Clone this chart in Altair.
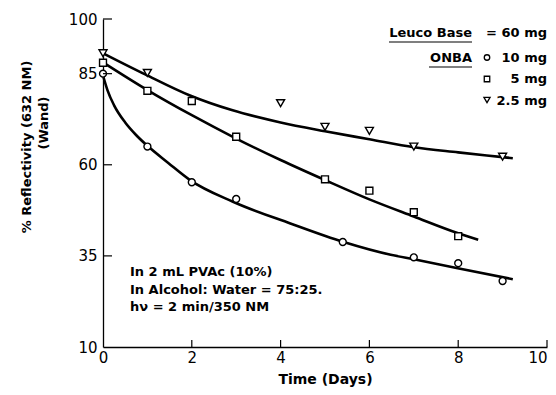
import altair as alt
import pandas as pd

# ---------------- data ----------------
circle_x = [0, 1, 2, 3, 5.4, 7, 8, 9]
circle_y = [85.0, 65.0, 55.2, 50.6, 38.8, 34.6, 33.0, 28.1]

square_x = [0, 1, 2, 3, 5, 6, 7, 8]
square_y = [88.0, 80.3, 77.5, 67.7, 56.0, 52.9, 47.0, 40.4]

tri_x = [0, 1, 4, 5, 6, 7, 9]
tri_y = [90.6, 85.2, 76.9, 70.4, 69.3, 65.0, 62.2]

# fitted curves
circle_fit_x = [0, 0.1, 0.25, 0.5, 0.75, 1.0, 1.47, 1.96, 2.94, 4.22, 5.42, 6.48, 7.03, 7.99, 9.23]
circle_fit_y = [84.5, 80.5, 76.3, 71.6, 68.1, 65.2, 60.5, 55.8, 49.8, 43.9, 38.8, 35.3, 34.0, 31.6, 28.6]

square_fit_x = [0, 1, 2, 3, 4, 5, 6, 7, 8, 8.45]
square_fit_y = [88.1, 80.5, 73.6, 67.2, 61.3, 55.8, 50.5, 45.8, 41.2, 39.4]

tri_fit_x = [0, 0.95, 1.96, 2.9, 4.0, 5.0, 6.0, 7.0, 8.0, 9.0, 9.23]
tri_fit_y = [90.6, 84.8, 79.0, 75.0, 71.6, 69.2, 67.0, 64.8, 63.4, 62.1, 61.8]

x_ticks = [0, 2, 4, 6, 8, 10]
y_ticks = [10, 35, 60, 85, 100]

legend_labels = ["10 mg", "5 mg", "2.5 mg"]
note_lines = ["In 2 mL PVAc (10%)", "In Alcohol: Water = 75:25.", "h\u03bd = 2 min/350 NM"]

# ---------------- chart ----------------
W, H = 444, 328
FONT = "DejaVu Sans"
xs = alt.Scale(domain=[0, 10], nice=False, zero=False)
ys = alt.Scale(domain=[10, 100], nice=False, zero=False)

def fit_df(xv, yv):
    return pd.DataFrame({"t": xv, "r": yv})

X = alt.X("t:Q", scale=xs,
          axis=alt.Axis(values=x_ticks, ticks=False, grid=False, domainColor="black",
                        domainWidth=1.3, labelFont=FONT, labelFontSize=15, labelColor="black",
                        labelPadding=3, title="Time (Days)", titleFont=FONT, titleFontSize=14,
                        titleFontWeight="bold", titleColor="black", titlePadding=7,
                        labelFlush=False,
                        labelAlign=alt.expr("datum.value == 10 ? 'right' : 'center'")))
Y = alt.Y("r:Q", scale=ys,
          axis=alt.Axis(values=y_ticks, ticks=False, grid=False, domainColor="black",
                        domainWidth=1.3, labelFont=FONT, labelFontSize=15, labelColor="black",
                        labelPadding=6, title="", labelFlush=False))

lines = []
for fx, fy in [(circle_fit_x, circle_fit_y), (square_fit_x, square_fit_y), (tri_fit_x, tri_fit_y)]:
    lines.append(alt.Chart(fit_df(fx, fy)).mark_line(color="black", strokeWidth=2.6,
                                                     interpolate="monotone").encode(x=X, y=Y))

pts = []
for px, py, shp, sz in [(circle_x, circle_y, "circle", 48),
                         (square_x, square_y, "square", 48),
                         (tri_x, tri_y, "triangle-down", 64)]:
    pts.append(alt.Chart(fit_df(px, py)).mark_point(shape=shp, size=sz, filled=True, fill="white",
                                                    stroke="black", strokeWidth=1.4,
                                                    opacity=1).encode(x=X, y=Y))

# inward ticks
ytick = alt.Chart(pd.DataFrame({"r": y_ticks[1:]})).mark_rule(color="black", strokeWidth=1.2).encode(
    y=alt.Y("r:Q", scale=ys), x=alt.value(0), x2=alt.value(9))
xtick = alt.Chart(pd.DataFrame({"t": x_ticks[1:]})).mark_rule(color="black", strokeWidth=1.2).encode(
    x=alt.X("t:Q", scale=xs), y=alt.value(H), y2=alt.value(H - 7))

def txt(s, x, y, align="left", size=13, weight="bold", angle=0, baseline="alphabetic"):
    kw = dict(align=align, baseline=baseline, font=FONT, fontSize=size, fontWeight=weight,
              color="black")
    if angle:
        kw["angle"] = angle
    return alt.Chart(pd.DataFrame({"s": [s]})).mark_text(**kw).encode(
        text="s:N", x=alt.value(x), y=alt.value(y))

texts = [
    txt("% Reflectivity (632 NM)", -76, 128, align="center", size=13, angle=270, baseline="middle"),
    txt("(Wand)", -59, 104, align="center", size=13, angle=270, baseline="middle"),
    txt("Leuco Base", 369, 18, align="right"),
    txt("= 60 mg", 444, 18, align="right"),
    txt("ONBA", 369, 43, align="right"),
    txt(legend_labels[0], 444, 43, align="right"),
    txt(legend_labels[1], 444, 64, align="right"),
    txt(legend_labels[2], 444, 86, align="right"),
    txt(note_lines[0], 27, 257),
    txt(note_lines[1], 27, 275),
    txt(note_lines[2], 27, 292),
]

underline = [
    alt.Chart(pd.DataFrame({"a": [0]})).mark_rule(color="black", strokeWidth=1.2).encode(
        x=alt.value(286), x2=alt.value(369), y=alt.value(23)),
    alt.Chart(pd.DataFrame({"a": [0]})).mark_rule(color="black", strokeWidth=1.2).encode(
        x=alt.value(326), x2=alt.value(369), y=alt.value(48)),
]

leg_marks = []
for shp, yy, sz in [("circle", 38.5, 30), ("square", 60, 30), ("triangle-down", 81, 38)]:
    leg_marks.append(alt.Chart(pd.DataFrame({"a": [0]})).mark_point(
        shape=shp, size=sz, filled=True, fill="white", stroke="black", strokeWidth=1.3,
        opacity=1).encode(x=alt.value(384), y=alt.value(yy)))

chart = alt.layer(*lines, *pts, ytick, xtick, *texts, *underline, *leg_marks).properties(
    width=W, height=H,
    padding={"left": 95, "top": 11, "right": 1, "bottom": 40},
    autosize=alt.AutoSizeParams(type="none"),
    background="white",
).configure_view(stroke=None)

chart.save("out.html", embed_options={"renderer": "svg", "actions": False})
